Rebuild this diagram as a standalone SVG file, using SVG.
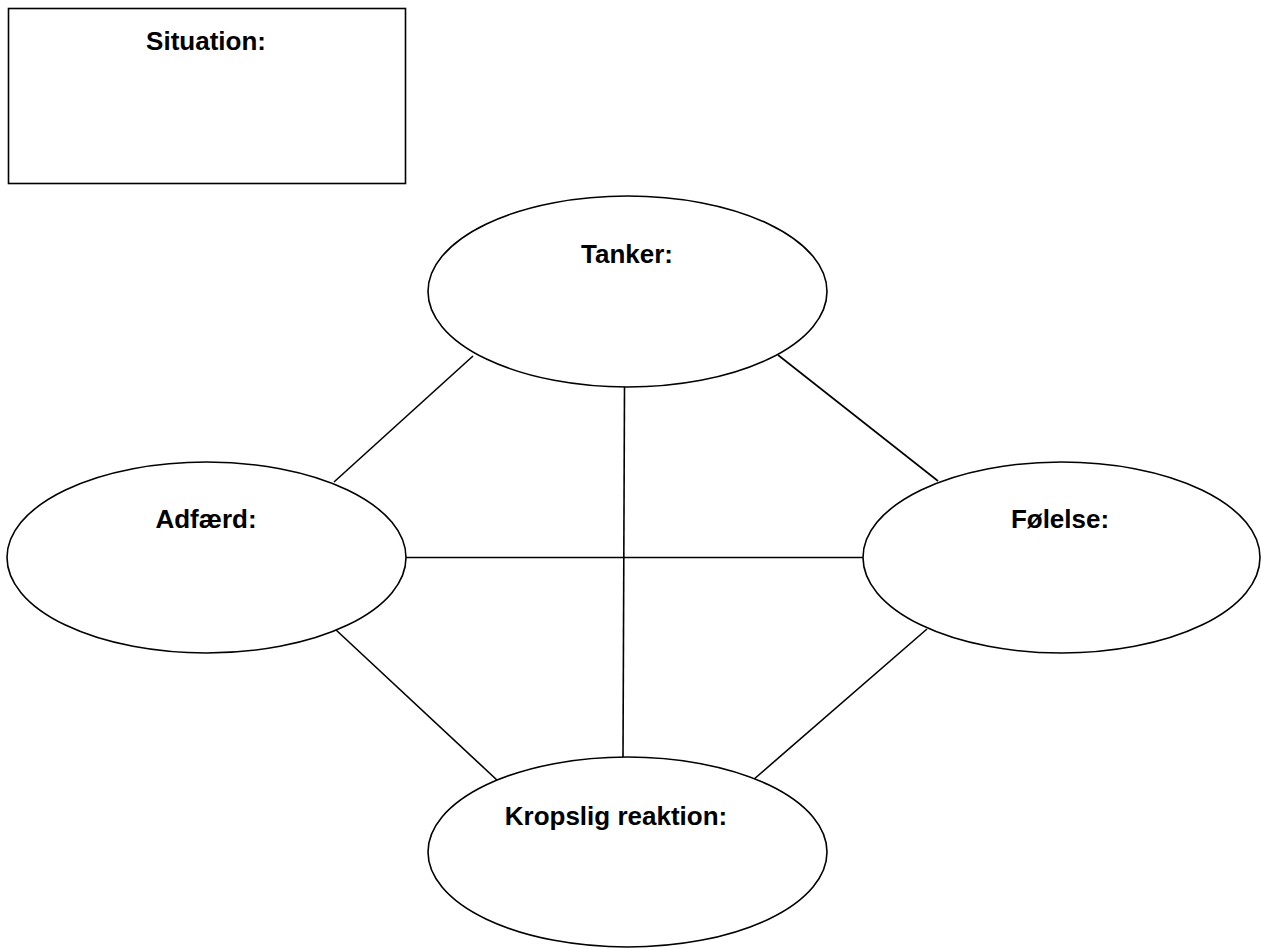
<svg xmlns="http://www.w3.org/2000/svg" width="1261" height="949" viewBox="0 0 1261 949">
<style>
.shape{fill:#fff;stroke:#000;stroke-width:1.6}
.lbl{font-family:"Liberation Sans",Arial,sans-serif;font-weight:bold;font-size:26px;fill:#000;text-anchor:middle}
.conn line{stroke:#000;stroke-width:1.6}
</style>
<rect width="1261" height="949" fill="#fff"/>
<g id="connectors" class="conn">
<line x1="473" y1="356" x2="334" y2="482"/>
<line x1="778" y1="355" x2="938" y2="481"/>
<line x1="624.5" y1="387" x2="623" y2="757"/>
<line x1="406" y1="557.5" x2="863" y2="557.5"/>
<line x1="335" y1="629" x2="498" y2="781"/>
<line x1="927" y1="629" x2="753" y2="780"/>
</g>
<g id="situation">
<rect class="shape" x="8.5" y="8.5" width="397" height="175" stroke-width="2"/>
<text class="lbl" x="206" y="50">Situation:</text>
</g>
<g id="tanker">
<ellipse class="shape" cx="627.5" cy="291.5" rx="199.5" ry="95.5"/>
<text class="lbl" x="627" y="263">Tanker:</text>
</g>
<g id="adfaerd">
<ellipse class="shape" cx="206.5" cy="557.5" rx="199.5" ry="95.5"/>
<text class="lbl" x="206" y="528">Adfærd:</text>
</g>
<g id="folelse">
<ellipse class="shape" cx="1061.5" cy="557.5" rx="198.5" ry="95.5"/>
<text class="lbl" x="1060" y="528">Følelse:</text>
</g>
<g id="kropslig">
<ellipse class="shape" cx="627.5" cy="852" rx="199.5" ry="95"/>
<text class="lbl" x="616" y="825">Kropslig reaktion:</text>
</g>
</svg>
